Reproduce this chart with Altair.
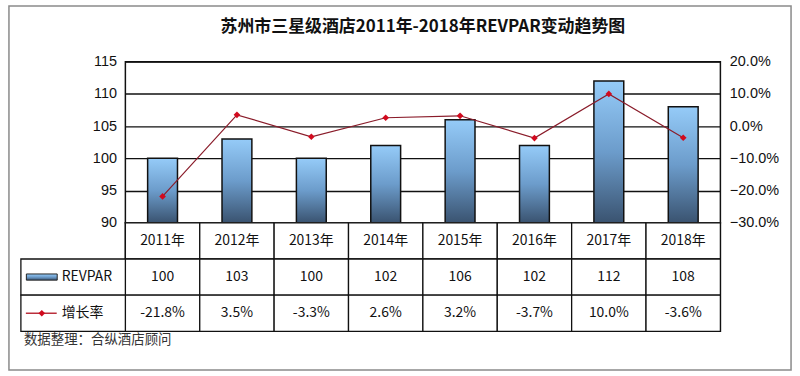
import altair as alt
import pandas as pd

# ---------------- data ----------------
years = ["2011年", "2012年", "2013年", "2014年", "2015年", "2016年", "2017年", "2018年"]
revpar = [100, 103, 100, 102, 106, 102, 112, 108]
growth = [-0.218, 0.035, -0.033, 0.026, 0.032, -0.037, 0.100, -0.036]
growth_labels = ["-21.8%", "3.5%", "-3.3%", "2.6%", "3.2%", "-3.7%", "10.0%", "-3.6%"]
row_names = ["年份", "REVPAR", "增长率"]
left_ticks = [90, 95, 100, 105, 110, 115]
right_ticks = [-0.3, -0.2, -0.1, 0.0, 0.1, 0.2]
title_text = "苏州市三星级酒店2011年-2018年REVPAR变动趋势图"
footer_text = "数据整理：合纵酒店顾问"

W, H1, H2 = 598, 162, 109
CJK = "Noto Sans CJK SC"
LAT = "Liberation Sans"

df = pd.DataFrame({"year": years, "revpar": revpar, "growth": growth})

grad = alt.Gradient(
    gradient="linear", x1=0, x2=0, y1=0, y2=1,
    stops=[alt.GradientStop(color="#95cbf8", offset=0),
           alt.GradientStop(color="#6c9ccb", offset=0.5),
           alt.GradientStop(color="#3a5370", offset=1)])

xs = alt.X("year:N", sort=years,
           scale=alt.Scale(paddingInner=0, paddingOuter=0), axis=None)

# decoration: outer frame + title
frame = alt.Chart(pd.DataFrame({"k": [0]})).mark_rect(
    fill="white", fillOpacity=0, stroke="#8a8a8a", strokeWidth=1.5
).encode(x=alt.value(-117), x2=alt.value(669), y=alt.value(-56), y2=alt.value(310))

title = alt.Chart(pd.DataFrame({"t": [title_text]})).mark_text(
    font=CJK, fontSize=17, fontWeight="bold", color="#111", baseline="middle"
).encode(text="t:N", x=alt.value(W / 2), y=alt.value(-35))

bars = alt.Chart(df).mark_bar(size=30, fill=grad, stroke="#111", strokeWidth=1.5).encode(
    x=xs,
    y=alt.Y("revpar:Q",
            scale=alt.Scale(domain=[90, 115], zero=False, nice=False),
            axis=alt.Axis(values=left_ticks, grid=True, gridColor="#111", gridWidth=1.3,
                          domain=False, ticks=False, labelPadding=9, labelFontSize=14.5,
                          labelColor="#111", labelFont=LAT, title=None)),
    y2=alt.datum(90),
)

line = alt.Chart(df).mark_line(color="#8a1c2a", strokeWidth=1.2).encode(
    x=xs,
    y=alt.Y("growth:Q",
            scale=alt.Scale(domain=[-0.3, 0.2], zero=False, nice=False),
            axis=alt.Axis(orient="right", values=right_ticks, format=".1%", grid=False,
                          domain=False, ticks=False, labelPadding=9, labelFontSize=14.5,
                          labelColor="#111", labelFont=LAT, title=None)),
)
pts = line.mark_point(shape="diamond", filled=True, color="#d10a1e", size=45, opacity=1)

top = alt.layer(
    frame, title, bars, alt.layer(line, pts)
).resolve_scale(y="independent").properties(width=W, height=H1)

# ---------------- table ----------------
tab_rows, tab_years, tab_labels = [], [], []
for i, y in enumerate(years):
    tab_years += [y, y, y]
    tab_rows += row_names
    tab_labels += [y, str(revpar[i]), growth_labels[i]]
tdf = pd.DataFrame({"year": tab_years, "row": tab_rows, "label": tab_labels})
hdf = pd.DataFrame({"row": row_names[1:]})

xs2 = alt.X("year:N", sort=years, scale=alt.Scale(paddingInner=0, paddingOuter=0), axis=None)
ys = alt.Y("row:N", sort=row_names, scale=alt.Scale(paddingInner=0, paddingOuter=0), axis=None)

cells = alt.Chart(tdf).mark_rect(fill="white", stroke="#111", strokeWidth=1.3).encode(x=xs2, y=ys)
cell_text = alt.Chart(tdf).mark_text(font=CJK, fontSize=14, color="#111", baseline="middle").encode(
    x=xs2, y=ys, text="label:N")

head_cells = alt.Chart(hdf).mark_rect(fill="white", stroke="#111", strokeWidth=1.3).encode(
    x=alt.value(-105), x2=alt.value(0), y=ys)
head_text = alt.Chart(hdf).mark_text(font=CJK, fontSize=14, color="#111", align="left",
                                     baseline="middle").encode(
    x=alt.value(-64), y=ys, text="row:N")

sym_bar = alt.Chart(hdf).transform_filter(alt.datum.row == "REVPAR").mark_point(
    shape="M-1,-0.2H1V0.2H-1Z", size=961, filled=True, fill=grad, stroke="#222",
    strokeWidth=1, opacity=1
).encode(x=alt.value(-84), y=ys)
sym_line = alt.Chart(hdf).transform_filter(alt.datum.row == "增长率").mark_rule(
    color="#b0101e", strokeWidth=1.3
).encode(x=alt.value(-100), x2=alt.value(-69), y=ys)
sym_pt = alt.Chart(hdf).transform_filter(alt.datum.row == "增长率").mark_point(
    shape="diamond", filled=True, color="#d10a1e", size=45, opacity=1
).encode(x=alt.value(-84), y=ys)

footer = alt.Chart(pd.DataFrame({"t": [footer_text]})).mark_text(
    font=CJK, fontSize=13.5, color="#333", align="left", baseline="middle"
).encode(text="t:N", x=alt.value(-102), y=alt.value(118))

bottom = alt.layer(cells, cell_text, head_cells, head_text, sym_bar, sym_line, sym_pt, footer
                   ).properties(width=W, height=H2)

chart = alt.vconcat(top, bottom, spacing=0, bounds="flush").properties(
    padding={"left": 7, "top": 3, "right": 7, "bottom": 7},
    background="white",
).configure_view(stroke="#111", strokeWidth=1.5)

chart.save("out.html", embed_options={"renderer": "svg", "actions": False})
